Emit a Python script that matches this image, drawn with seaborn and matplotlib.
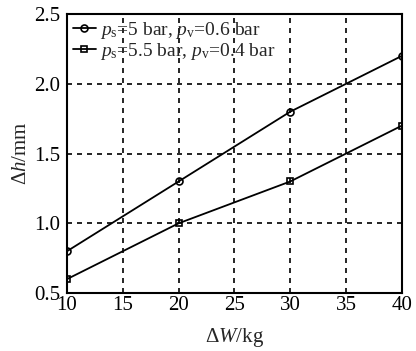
import pandas as pd
import numpy as np
import seaborn as sns
import matplotlib.pyplot as plt

# data
dW = [10, 20, 30, 40]
dh_a = [0.8, 1.3, 1.8, 2.2]   # ps=5 bar, pv=0.6 bar
dh_b = [0.6, 1.0, 1.3, 1.7]   # ps=5.5 bar, pv=0.4 bar
labels = [r'$p_\mathrm{s}$=5 bar, $p_\mathrm{v}$=0.6 bar',
          r'$p_\mathrm{s}$=5.5 bar, $p_\mathrm{v}$=0.4 bar']

sns.set_style('white')
plt.rcParams['font.family'] = ['Liberation Serif', 'DejaVu Serif']
plt.rcParams['mathtext.fontset'] = 'custom'
plt.rcParams['mathtext.rm'] = 'Liberation Serif'
plt.rcParams['mathtext.it'] = 'Liberation Serif:italic'

df = pd.DataFrame({
    'dW': dW * 2,
    'dh': dh_a + dh_b,
    'case': [labels[0]] * 4 + [labels[1]] * 4,
})

fig = plt.figure(figsize=(4.16, 3.51), dpi=100)
ax = fig.add_axes([0.161, 0.165, 0.805, 0.795])

sns.lineplot(data=df, x='dW', y='dh', hue='case', style='case',
             markers=['o', 's'], dashes=False,
             palette=['black', 'black'], ax=ax, lw=1.3,
             markersize=5, markerfacecolor='none', markeredgecolor='black',
             markeredgewidth=1.2)

ax.set_xlim(10, 40)
ax.set_ylim(0.5, 2.5)
ax.set_xticks(np.arange(10, 41, 5))
ax.set_yticks(np.arange(0.5, 2.51, 0.5))
ax.set_yticklabels(['0.5', '1.0', '1.5', '2.0', '2.5'])
ax.grid(True, color='black', linestyle=(0, (3, 3)), lw=1.2)
for s in ax.spines.values():
    s.set_color('black')
    s.set_linewidth(1.5)
ax.tick_params(labelsize=15, length=0, colors='black')
ax.tick_params(axis='x', pad=2)
ax.tick_params(axis='y', pad=5)

ax.set_xlabel(r'$\Delta$$W$/kg', fontsize=15, labelpad=8)
ax.set_ylabel(r'$\Delta$$h$/mm', fontsize=15, labelpad=2)

leg = ax.legend(loc='upper left', frameon=False, fontsize=14,
                handlelength=1.2, handletextpad=0.2, labelspacing=0.0,
                borderaxespad=0.2, borderpad=0.1)

fig.savefig('out.png', dpi=100)
